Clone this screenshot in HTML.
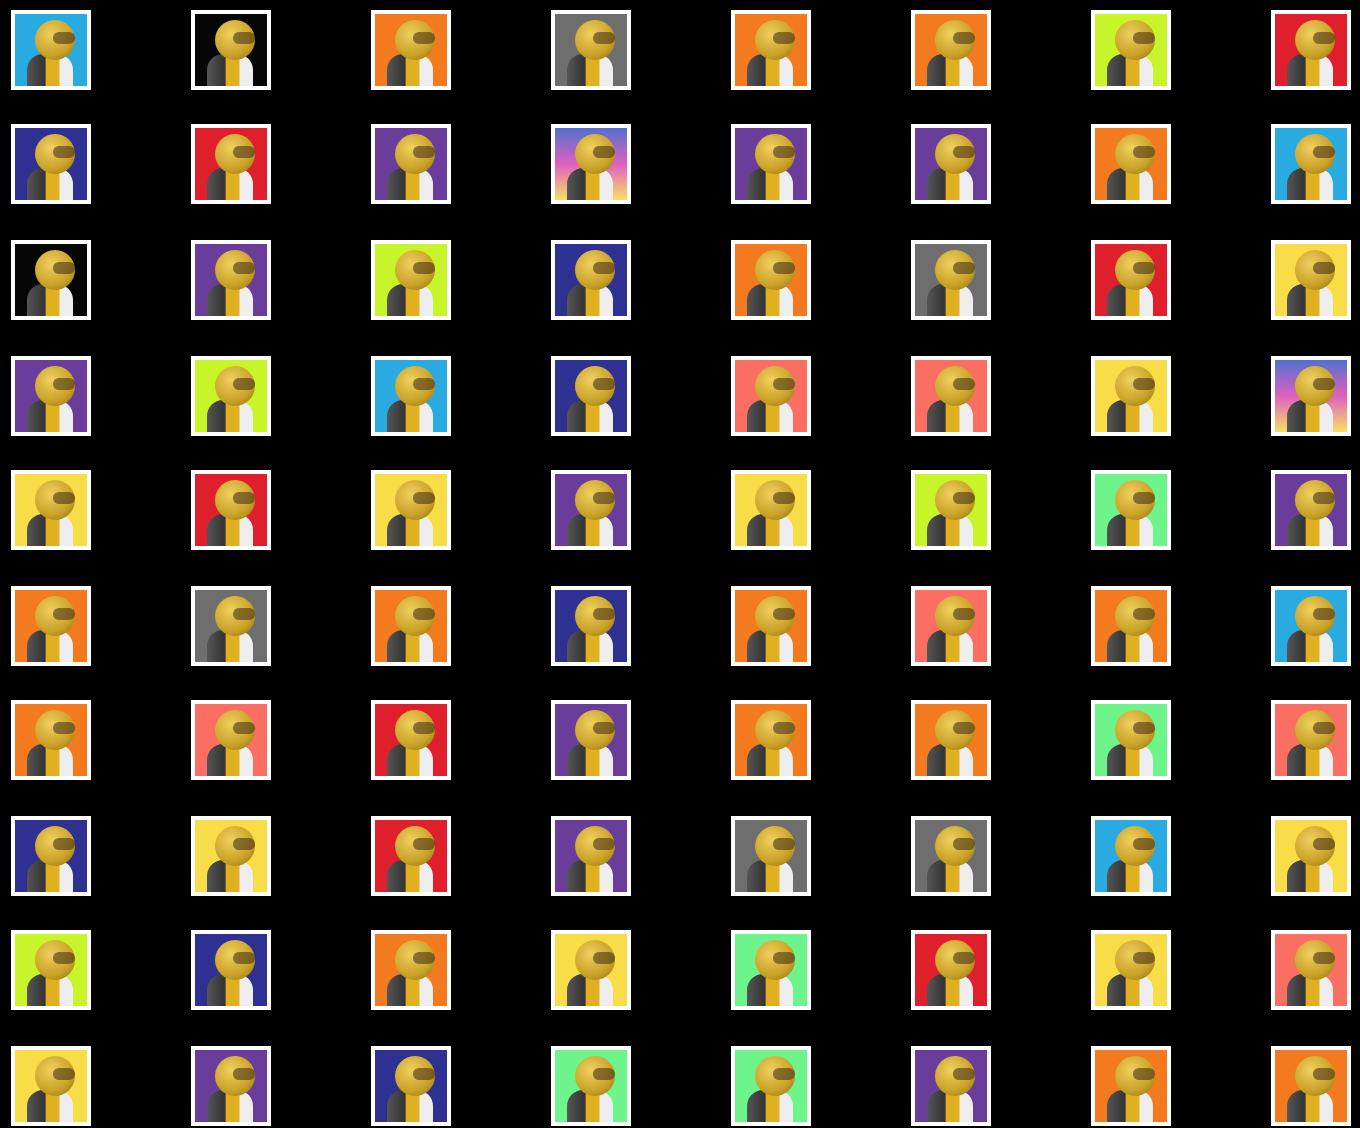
<!DOCTYPE html>
<html><head><meta charset="utf-8"><style>
html,body{margin:0;padding:0;background:#000;width:1360px;height:1128px;overflow:hidden}
.t{position:absolute;width:72px;height:72px;border:4px solid #fff;overflow:hidden}
.h{position:absolute;left:20px;top:6px;width:40px;height:40px;border-radius:50%;background:radial-gradient(circle at 40% 35%,#f0d060,#c9a227 60%,#8a6a10);}
.b{position:absolute;left:12px;top:40px;width:46px;height:40px;border-radius:16px 16px 0 0;background:linear-gradient(90deg,#555 0,#333 40%,#e0b020 41%,#e0b020 70%,#eee 71%)}
.v{position:absolute;left:38px;top:18px;width:22px;height:12px;border-radius:6px;background:rgba(60,40,20,.55)}
</style></head><body>
<script>
const C={b:'#29abe2',k:'#060606',o:'#f47a20',g:'#6e6e6e',l:'#c8f52a',r:'#e01f2c',n:'#2e3192',p:'#6b3d9a',P:'#d070c0',y:'#f8dc48',s:'#fb6e62',G:'#6df48a'};
const rows=['bkogoolr','nrpPppob','kplnogry','plbnssyP','yrypylGp','ogonosob','osrpooGs','nyrpggby','lnoyGrys','ypnGGpoo'];
const ys=[10,124,240,356,470,586,700,816,930,1046];
const xs=[11,191,371,551,731,911,1091,1271];
rows.forEach((row,ri)=>{[...row].forEach((c,ci)=>{
 const d=document.createElement('div');d.className='t';
 
 
 d.style.left=xs[ci]+'px';d.style.top=ys[ri]+'px';
 d.style.background=c==='P'?'linear-gradient(180deg,#5070d0,#e060c0 50%,#f8e060)':C[c];
 d.innerHTML='<div class="b"></div><div class="h"></div><div class="v"></div>';
 document.body.appendChild(d);
});});
</script>
</body></html>
